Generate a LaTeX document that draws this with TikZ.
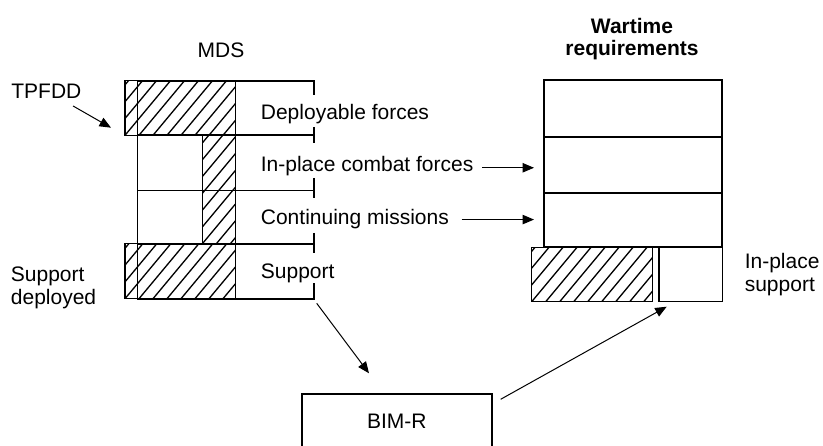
\documentclass[tikz,border=0pt]{standalone}
\usepackage{fontspec}
\setmainfont{Liberation Sans}
\usetikzlibrary{arrows.meta}
\newcommand\hatchrect[4]{%
  \begin{scope}
    \clip (#1,#2) rectangle (#3,#4);
    \foreach \s in {-140,-126,...,140} \draw[hatchline] ({#1+\s},#4) -- ++(150,-180);
  \end{scope}}
\begin{document}
\begin{tikzpicture}[x=1pt,y=-1pt,
  heavy/.style={line width=1.8pt},
  light/.style={line width=1.1pt},
  hatchline/.style={line width=1.3pt},
  arr/.style={line width=1pt,-{Triangle[length=11.5pt,width=9.5pt]}},
  lbl/.style={font=\fontsize{21}{23}\selectfont, inner sep=0pt},
  box/.style={draw, heavy, inner sep=0pt, outer sep=0pt},
  lbox/.style={draw, light, inner sep=0pt, outer sep=0pt}]
\useasboundingbox (0,0) rectangle (823,446);
\clip (0,0) rectangle (823,446);

% hatching
\hatchrect{125}{80.7}{235.3}{135.3}
\hatchrect{202.3}{135.3}{235.3}{243.8}
\hatchrect{125}{243.8}{235.3}{298.7}
\hatchrect{531.7}{247.3}{652.3}{301.7}

% MDS thin parts
\draw[light] (125,80.7) rectangle (137.5,135.3);
\draw[light] (125,243.8) rectangle (137.5,298.7);
\draw[light] (235.3,80.7) -- (235.3,298.7);
\draw[light] (202.3,135.3) -- (202.3,243.8);

% MDS heavy frame
\coordinate (mdsSE) at (314.3,298.7);
\draw[heavy] (314.3,95) -- (314.3,80.7) -- (137.5,80.7) -- (137.5,298.7) -- (mdsSE) -- (314.3,283);
\foreach \y in {135.3,190.5,243.8} \draw[heavy] (137.5,\y) -- (314.3,\y);
\draw[heavy] (314.3,127) -- (314.3,143) (314.3,178) -- (314.3,198) (314.3,233) -- (314.3,253);

% Wartime requirements boxes
\node[box, minimum width=178.3pt, minimum height=56.7pt] (w1) at (633.15,108.35) {};
\node[box, minimum width=178.3pt, minimum height=56.6pt] (w2) at (633.15,165) {};
\node[box, minimum width=178.3pt, minimum height=53.4pt] (w3) at (633.15,220) {};
\node[lbox, minimum width=120.6pt, minimum height=54.4pt] (wh) at (592,274.5) {};
\node[lbox, minimum width=63.3pt, minimum height=54.4pt] (wi) at (690.65,274.5) {};

% BIM-R
\node[box, lbl, minimum width=189.7pt, minimum height=54.6pt] (bim) at (396.8,421.3) {BIM-R};

% labels
\node[lbl, anchor=base] (mds) at (221,57.3) {MDS};
\node[lbl, font={\fontsize{21}{22}\selectfont\bfseries}, align=center] (wr) at (632,38.6) {Wartime\\requirements};
\node[lbl, anchor=base west] (tp) at (11.2,98.3) {TPFDD};
\node[lbl, anchor=base west] (dep) at (260.7,119.3) {Deployable forces};
\node[lbl, anchor=base west] (ic) at (260.7,171.7) {In-place combat forces};
\node[lbl, anchor=base west] (cm) at (260.7,225) {Continuing missions};
\node[lbl, anchor=base west] (sup) at (260.7,278.3) {Support};
\node[lbl, anchor=west, align=left] (supdep) at (10.7,287.6) {Support\\deployed};
\node[lbl, anchor=west, align=left] (ips) at (744.6,274.4) {In-place\\support};

% connectors
\coordinate (tpend) at (111,127.7);
\coordinate (bimin) at (369,373.3);
\draw[arr] ([shift={(-8.5pt,-7.7pt)}]tp.base east) -- (tpend);
\draw[arr] ([xshift=8.7pt,yshift=-1.5pt]ic.east) -- ([xshift=-10pt,yshift=-1.5pt]ic.east -| w2.west);
\draw[arr] ([xshift=12.7pt]cm.east) -- ([xshift=-10pt]cm.east -| w3.west);
\draw[arr] ([shift={(2.4pt,-4.6pt)}]mdsSE) -- (bimin);
\draw[arr] ([shift={(9pt,-5.3pt)}]bim.north east) -- ([shift={(7.7pt,-5pt)}]wi.south west);
\end{tikzpicture}
\end{document}
